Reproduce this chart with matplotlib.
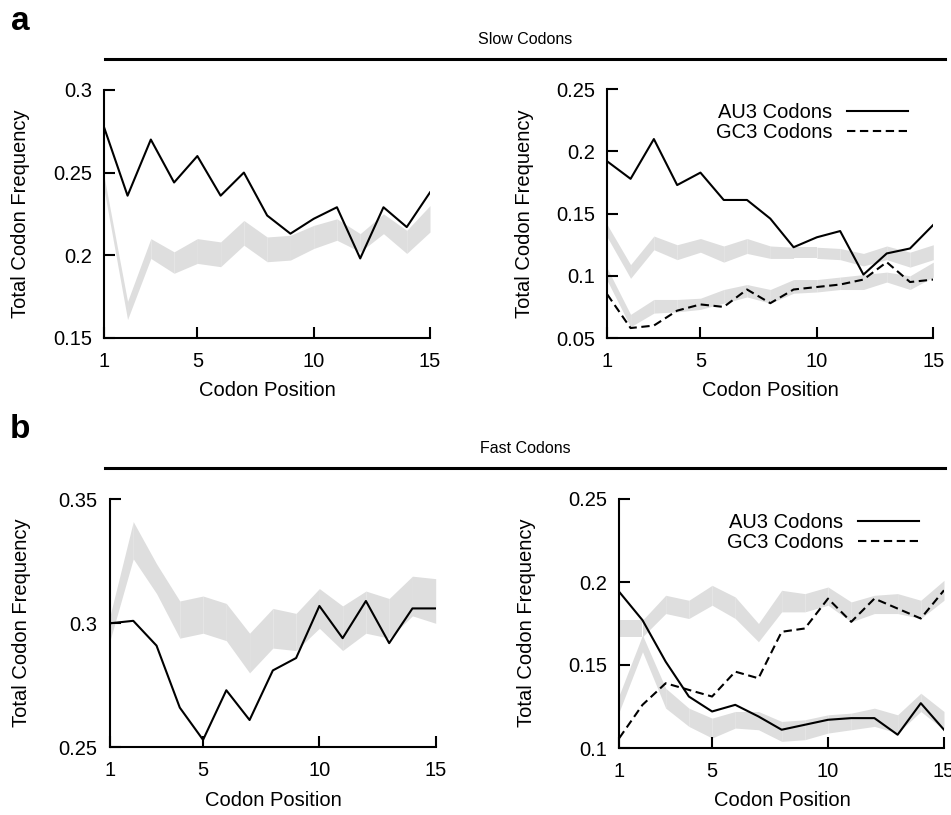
import numpy as np
import matplotlib.pyplot as plt
from matplotlib.lines import Line2D

plt.rcParams['font.family'] = ['Liberation Sans', 'DejaVu Sans']

pos = np.arange(1, 16)

# a: slow codons, left panel
slow_all = [0.277, 0.236, 0.270, 0.244, 0.260, 0.236, 0.250, 0.224, 0.213, 0.222,
            0.229, 0.198, 0.229, 0.217, 0.238]
slow_all_hi = [0.247, 0.172, 0.210, 0.202, 0.210, 0.208, 0.221, 0.211, 0.212, 0.218,
               0.222, 0.213, 0.225, 0.215, 0.230]
slow_all_lo = [0.239, 0.161, 0.198, 0.189, 0.195, 0.193, 0.206, 0.196, 0.197, 0.204,
               0.209, 0.202, 0.213, 0.201, 0.214]

# a: slow codons, right panel
slow_au3 = [0.192, 0.178, 0.210, 0.173, 0.183, 0.161, 0.161, 0.146, 0.123, 0.131,
            0.136, 0.101, 0.118, 0.122, 0.141]
slow_gc3 = [0.085, 0.058, 0.060, 0.072, 0.077, 0.075, 0.089, 0.078, 0.089, 0.091,
            0.093, 0.097, 0.111, 0.095, 0.097]
slow_au3_hi = [0.141, 0.109, 0.132, 0.125, 0.130, 0.124, 0.130, 0.124, 0.123, 0.123,
               0.122, 0.118, 0.124, 0.119, 0.125]
slow_au3_lo = [0.131, 0.098, 0.121, 0.113, 0.119, 0.111, 0.118, 0.114, 0.114, 0.114,
               0.113, 0.108, 0.113, 0.107, 0.113]
slow_gc3_hi = [0.106, 0.069, 0.081, 0.081, 0.082, 0.089, 0.093, 0.089, 0.097, 0.097,
               0.099, 0.101, 0.103, 0.100, 0.111]
slow_gc3_lo = [0.096, 0.059, 0.070, 0.071, 0.073, 0.078, 0.083, 0.078, 0.086, 0.087,
               0.089, 0.089, 0.095, 0.089, 0.099]

# b: fast codons, left panel
fast_all = [0.300, 0.301, 0.291, 0.266, 0.253, 0.273, 0.261, 0.281, 0.286, 0.307,
            0.294, 0.309, 0.292, 0.306, 0.306]
fast_all_hi = [0.303, 0.341, 0.324, 0.309, 0.311, 0.308, 0.296, 0.306, 0.304, 0.314,
               0.307, 0.313, 0.310, 0.319, 0.318]
fast_all_lo = [0.293, 0.326, 0.312, 0.294, 0.296, 0.293, 0.280, 0.290, 0.289, 0.298,
               0.289, 0.296, 0.294, 0.303, 0.300]

# b: fast codons, right panel
fast_au3 = [0.194, 0.177, 0.152, 0.131, 0.122, 0.126, 0.119, 0.111, 0.114, 0.117,
            0.118, 0.118, 0.108, 0.127, 0.111]
fast_gc3 = [0.106, 0.126, 0.139, 0.135, 0.131, 0.146, 0.142, 0.170, 0.172, 0.190,
            0.176, 0.190, 0.184, 0.178, 0.195]
fast_gc3_hi = [0.177, 0.177, 0.192, 0.189, 0.198, 0.191, 0.175, 0.195, 0.193, 0.197,
               0.188, 0.192, 0.193, 0.189, 0.201]
fast_gc3_lo = [0.167, 0.167, 0.181, 0.178, 0.186, 0.178, 0.164, 0.182, 0.182, 0.186,
               0.176, 0.181, 0.181, 0.178, 0.189]
fast_au3_hi = [0.132, 0.168, 0.136, 0.124, 0.118, 0.122, 0.122, 0.116, 0.117, 0.120,
               0.121, 0.124, 0.120, 0.133, 0.122]
fast_au3_lo = [0.122, 0.158, 0.124, 0.113, 0.106, 0.112, 0.111, 0.104, 0.105, 0.109,
               0.111, 0.113, 0.109, 0.122, 0.111]

xticks = [1, 5, 10, 15]
yt_a_left = [0.15, 0.2, 0.25, 0.3]
yt_a_right = [0.05, 0.1, 0.15, 0.2, 0.25]
yt_b_left = [0.25, 0.3, 0.35]
yt_b_right = [0.1, 0.15, 0.2, 0.25]

band = '#dedede'
fs = 14.5
W, H = 951, 815

fig = plt.figure(figsize=(W / 100, H / 100), dpi=100)


def px_axes(x0, x1, y_top, y_bot):
    return fig.add_axes([x0 / W, 1 - y_bot / H, (x1 - x0) / W, (y_bot - y_top) / H])


def shade(ax, lo, hi):
    # one polygon per step, like the original, leaving faint seams
    for i in range(len(pos) - 1):
        ax.fill_between(pos[i:i + 2], lo[i:i + 2], hi[i:i + 2], color=band, lw=0)


def style(ax, yticks):
    ax.set_xlim(1, 15)
    ax.set_ylim(yticks[0], yticks[-1])
    ax.set_xticks(xticks)
    ax.set_xticklabels([str(t) for t in xticks])
    ax.set_yticks(yticks)
    ax.set_yticklabels(['%g' % t for t in yticks])
    for s in ['top', 'right']:
        ax.spines[s].set_visible(False)
    for s in ['left', 'bottom']:
        ax.spines[s].set_linewidth(1.5)
    ax.tick_params(direction='in', length=8, width=1.5, labelsize=fs, pad=9)
    ax.tick_params(axis='x', pad=10)


def legend(ax):
    ax.legend(loc='upper right', bbox_to_anchor=(0.922, 0.943), frameon=False,
              markerfirst=False, fontsize=fs, handlelength=3.0, handletextpad=0.75,
              labelspacing=0.05, borderpad=0, borderaxespad=0)


# panel a left
ax1 = px_axes(104.3, 430, 90, 337.7)
shade(ax1, slow_all_lo, slow_all_hi)
ax1.plot(pos, slow_all, color='black', lw=1.5)
style(ax1, yt_a_left)

# panel a right
ax2 = px_axes(607.3, 933.3, 89.3, 338)
shade(ax2, slow_au3_lo, slow_au3_hi)
shade(ax2, slow_gc3_lo, slow_gc3_hi)
ax2.plot(pos, slow_au3, color='black', lw=1.5, label='AU3 Codons')
ax2.plot(pos, slow_gc3, color='black', lw=1.5, dashes=(4, 2.2), label='GC3 Codons')
style(ax2, yt_a_right)
legend(ax2)

# panel b left
ax3 = px_axes(110, 435.7, 499.3, 747.3)
shade(ax3, fast_all_lo, fast_all_hi)
ax3.plot(pos, fast_all, color='black', lw=1.5)
style(ax3, yt_b_left)

# panel b right
ax4 = px_axes(619.3, 944, 499, 748)
shade(ax4, fast_gc3_lo, fast_gc3_hi)
shade(ax4, fast_au3_lo, fast_au3_hi)
ax4.plot(pos, fast_au3, color='black', lw=1.5, label='AU3 Codons')
ax4.plot(pos, fast_gc3, color='black', lw=1.5, dashes=(4, 2.2), label='GC3 Codons')
style(ax4, yt_b_right)
legend(ax4)

# axis labels
for x, y in [(21, 214), (525, 214), (22, 623), (527, 623)]:
    fig.text(x / W, 1 - y / H, 'Total Codon Frequency', rotation=90,
             ha='center', va='center', fontsize=fs)
for x, y in [(267, 390), (770, 390), (273, 800), (782, 800)]:
    fig.text(x / W, 1 - y / H, 'Codon Position', ha='center', va='center', fontsize=fs)

# panel headers
for letter, title, y0 in [('a', 'Slow Codons', 0), ('b', 'Fast Codons', 409)]:
    fig.text(20 / W, 1 - (21 + y0) / H, letter, fontsize=24, fontweight='bold',
             ha='center', va='center')
    fig.text(525 / W, 1 - (39 + y0) / H, title, fontsize=11.5, ha='center', va='center')
    fig.add_artist(Line2D([105 / W, 945 / W], [1 - (58.5 + y0) / H] * 2,
                          color='black', lw=2.2))

fig.savefig('out.png', dpi=100)
